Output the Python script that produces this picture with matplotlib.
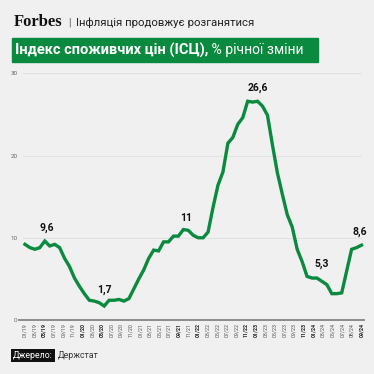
import numpy as np
import matplotlib
matplotlib.use("Agg")
import matplotlib.pyplot as plt
from matplotlib import font_manager
from matplotlib.patches import Rectangle

# monthly CPI, % y/y, starting 01/2019
cpi_2019 = [9.2, 8.8, 8.6, 8.8, 9.6, 9.0, 9.2, 8.8, 7.5, 6.5, 5.1, 4.1]
cpi_2020 = [3.2, 2.4, 2.3, 2.1, 1.7, 2.4, 2.4, 2.5, 2.3, 2.6, 3.8, 5.0]
cpi_2021 = [6.1, 7.5, 8.5, 8.4, 9.5, 9.5, 10.2, 10.2, 11.0, 10.9, 10.3, 10.0]
cpi_2022 = [10.0, 10.7, 13.7, 16.4, 18.0, 21.5, 22.2, 23.8, 24.6, 26.6, 26.5, 26.6]
cpi_2023 = [26.0, 24.9, 21.3, 17.9, 15.3, 12.8, 11.3, 8.6, 7.1, 5.3, 5.1, 5.1]
cpi_2024 = [4.7, 4.3, 3.2, 3.2, 3.3, np.nan, 8.6, 8.8, 9.1]

tick_labels = ["01/19", "03/19", "05/19", "07/19", "09/19", "11/19",
               "01/20", "03/20", "05/20", "07/20", "09/20", "11/20",
               "01/21", "03/21", "05/21", "07/21", "09/21", "11/21",
               "01/22", "03/22", "05/22", "07/22", "09/22", "11/22",
               "01/23", "03/23", "05/23", "07/23", "09/23", "11/23",
               "01/24", "03/24", "05/24", "07/24", "08/24", "09/24"]
bold_labels = ["05/19", "01/20", "05/20", "09/21", "01/22", "11/22",
               "01/23", "11/23", "01/24", "09/24"]

# (month index, text, dx px, dy px)
callouts = [(4, "9,6", 2, 8), (16, "1,7", 0, 11), (32, "11", 3, 7),
            (47, "26,6", 0, 8), (57, "5,3", 15, 7), (68, "8,6", -2, 8)]

title = "Інфляція продовжує розганятися"
bar_bold = "Індекс споживчих цін (ІСЦ),"
bar_rest = " % річної зміни"
source_tag = "Джерело:"
source = "Держстат"

green = "#0a8a3e"
bg = "#f0f0f0"

names = {f.name for f in font_manager.fontManager.ttflist}
narrow = "Liberation Sans Narrow" if "Liberation Sans Narrow" in names else "Roboto"
plt.rcParams["font.family"] = [narrow, "DejaVu Sans"]

values = np.array(cpi_2019 + cpi_2020 + cpi_2021 + cpi_2022 + cpi_2023 + cpi_2024)
months = np.arange(len(values))
ok = ~np.isnan(values)

fig = plt.figure(figsize=(3.74, 3.74), dpi=100, facecolor=bg)
W = H = 374.0
ax = fig.add_axes([23 / W, 1 - 320 / H, 339 / W, (320 - 73.3) / H])
ax.set_facecolor(bg)

ax.plot(months[ok], values[ok], color=green, lw=2.4, solid_joinstyle="miter",
        clip_on=False, zorder=3)

ax.set_xlim(-0.4, 68.1)
ax.set_ylim(0, 30)
for s in ax.spines.values():
    s.set_visible(False)
ax.set_yticks([0, 10, 20, 30])
ax.grid(axis="y", color="#e2e2e2", lw=0.8)
ax.set_axisbelow(True)
ax.axhline(0, xmin=-0.012, xmax=1.006, color="#8c8c8c", lw=1.4, clip_on=False, zorder=2)
ax.tick_params(axis="y", length=0, pad=4, labelsize=4.5, labelcolor="#666666")

pos = np.linspace(0, len(values) - 1, len(tick_labels))
ax.set_xticks(pos, tick_labels, rotation=90)
ax.tick_params(axis="x", length=0, pad=2, labelsize=3.8, labelcolor="#555555")
for t in ax.get_xticklabels():
    if t.get_text() in bold_labels:
        t.set_fontweight("bold")
        t.set_color("#222222")

for i, txt, dx, dy in callouts:
    ax.annotate(txt, (months[i], values[i]), xytext=(dx, dy), textcoords="offset pixels",
                ha="center", va="bottom", fontsize=7.5, fontweight="bold", color="#111111")

# header
fig.text(14 / W, 1 - 26.5 / H, "Forbes", family="Liberation Serif", fontweight="bold",
         fontsize=12, color="#111111", va="baseline")
fig.text(68.5 / W, 1 - 25.5 / H, "|", fontsize=7, color="#555555", va="baseline")
fig.text(76 / W, 1 - 25.5 / H, title, fontsize=8.2, color="#222222", va="baseline")

fig.patches.append(Rectangle((12 / W, 1 - 61.7 / H), 306 / W, 23.4 / H,
                             transform=fig.transFigure, color=green, zorder=0))
t1 = fig.text(15 / W, 1 - 50 / H, bar_bold, fontsize=10.5, fontweight="bold",
              color="white", va="center")
fig.canvas.draw()
bb = t1.get_window_extent()
fig.text(bb.x1 / W, 1 - 50 / H, bar_rest, fontsize=10, color="white", va="center")

# source
tag = fig.text(13 / W, 1 - 355.5 / H, source_tag, fontsize=6.3, color="white", va="center",
               bbox=dict(boxstyle="square,pad=0.2", fc="#111111", ec="none"))
fig.canvas.draw()
tb = tag.get_window_extent()
fig.text((tb.x1 + 5) / W, 1 - 355.5 / H, source, fontsize=6.3, color="#333333", va="center")

fig.savefig("out.png", dpi=100, facecolor=bg)
